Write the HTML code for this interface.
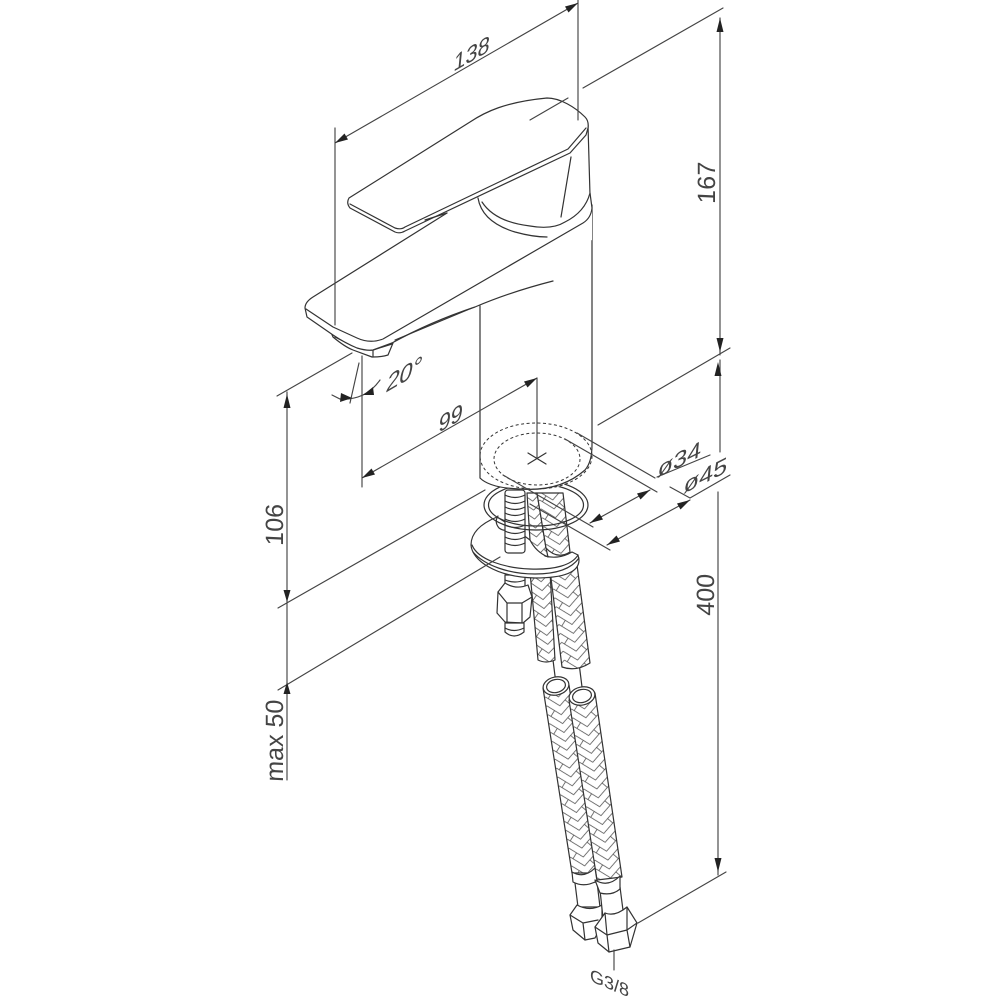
<!DOCTYPE html>
<html><head><meta charset="utf-8"><style>
html,body{margin:0;padding:0;background:#fff}
svg{display:block}
text{font-family:"Liberation Sans",sans-serif;fill:#444;font-size:23px}
.l{fill:none;stroke:#333;stroke-width:1.2;stroke-linejoin:round;stroke-linecap:round}
.d{fill:none;stroke:#444;stroke-width:1.15;stroke-linecap:round}
.w{fill:#fff;stroke:#333;stroke-width:1.2;stroke-linejoin:round}
.a{fill:#222;stroke:none}
</style></head><body>
<svg width="1000" height="1000" viewBox="0 0 1000 1000" xmlns="http://www.w3.org/2000/svg">
<defs>
<g id="br">
<rect x="-1" y="-1" width="28" height="20" fill="#fff"/>
<path d="M0 -18L13 -7L26 -18M0 -9L13 2L26 -9M0 0L13 11L26 0M0 9L13 20L26 9M0 18L13 29L26 18M7 5.9L2.5 11.1M19 14.9L23.5 20.1M19 -3.1L23.5 2.1" fill="none" stroke="#4a4a4a" stroke-width=".75"/>
</g>
<pattern id="h1" patternUnits="userSpaceOnUse" width="26" height="18" patternTransform="translate(544 688) rotate(-8.8)"><use href="#br"/></pattern>
<pattern id="h2" patternUnits="userSpaceOnUse" width="26" height="18" patternTransform="translate(570 700) rotate(-8.8)"><use href="#br"/></pattern>
<pattern id="h3" patternUnits="userSpaceOnUse" width="26" height="18" patternTransform="translate(529 590) rotate(-6)"><use href="#br"/></pattern>
<pattern id="h4" patternUnits="userSpaceOnUse" width="26" height="18" patternTransform="translate(552 580) rotate(-8.8)"><use href="#br"/></pattern>
</defs>
<rect width="1000" height="1000" fill="#fff"/>

<!-- lower hoses -->
<path class="l" d="M553 660L556 684M579 663L583 695"/>
<path class="w" d="M543 688L572 873L597 873L569 685Z" style="fill:url(#h1)"/>
<ellipse class="w" cx="556" cy="686" rx="13" ry="9" transform="rotate(-12 556 686)"/>
<ellipse class="l" cx="556" cy="686" rx="9.5" ry="6.5" transform="rotate(-12 556 686)"/>
<path class="w" d="M569 700L597 880L622 877L595 693Z" style="fill:url(#h2)"/>
<ellipse class="w" cx="582" cy="696" rx="13" ry="9" transform="rotate(-12 582 696)"/>
<ellipse class="l" cx="582" cy="696" rx="9.5" ry="6.5" transform="rotate(-12 582 696)"/>

<!-- left fitting -->
<path class="w" d="M575 883L578 907H600L597 882Z"/>
<path class="w" d="M572 872L573 882Q584 888 597 881L595 868Q584 879 572 872Z"/>
<path class="w" d="M570 915L577 905Q590 912 602 905L602 925L595 938L585 940L573 930Z"/>
<path class="l" d="M570 915L583 923L585 940M583 923L598 920"/>
<!-- right fitting -->
<path class="w" d="M600 890L603 918H624L620 887Z"/>
<path class="w" d="M595 880L600 893Q612 896 620 889L620 876Q608 888 595 880Z"/>
<path class="w" d="M595 927L605 913Q615 917 627 907L637 923L630 947L609 952L598 943Z"/>
<path class="l" d="M595 927L607 935L627 930L637 923M607 935L609 952M627 930L630 947M605 913L607 935M627 907L627 930"/>

<!-- upper hoses below washer -->
<path class="w" d="M530 572L538 660Q546 664 555 660L550 572Z" style="fill:url(#h3)"/>
<path class="w" d="M550 570L562 667Q576 672 590 663L577 565Z" style="fill:url(#h4)"/>

<!-- hex nut -->
<rect class="w" x="505" y="575" width="20" height="14"/>
<path class="l" d="M505 580Q515 584 525 580"/>
<path class="w" d="M498 592L505 583Q516 590 528 585L532 597L530 617L523 623L505 622L497 613Z"/>
<path class="l" d="M498 592L507 603H522L532 597M507 603V622M522 603V623"/>
<path class="w" d="M505 623V632Q514 640 524 632V623Z"/>
<path class="l" d="M505 628Q514 633 524 628"/>

<!-- lower washer -->
<path class="w" d="M497 517C480 524 471 533 471 545C472 560 495 577 535 578C565 578 579 572 579 560L578 555L572 552C562 558 552 558 545 556L530 540L505 522Z"/>
<path class="l" d="M472 545C478 560 505 568 530 569C555 570 572 565 578 555"/>
<path class="l" d="M473 552C485 566 510 574 535 574C558 574 572 568 579 558"/>
<path class="l" d="M498 516Q494 522 499 528Q503 531 507 530"/>

<!-- threaded rod -->
<rect class="w" x="505" y="490" width="20" height="63" rx="3"/>
<path class="l" d="M505 495Q515 500 525 495M505 501Q515 506 525 501M505 507Q515 512 525 507M505 513Q515 518 525 513M505 519Q515 524 525 519M505 525Q515 530 525 525M505 531Q515 536 525 531M505 537Q515 542 525 537M505 543Q515 548 525 543"/>

<!-- upper hoses above washer -->
<path class="w" d="M527 493L537 493L546 548L548 557Q536 552 530 540Z" style="fill:url(#h3)"/>
<path class="w" d="M537 493L563 493L570 552Q557 560 546 548Z" style="fill:url(#h4)"/>

<!-- ring -->
<ellipse class="l" cx="536" cy="505" rx="52" ry="25"/>
<ellipse class="l" cx="536" cy="505" rx="47.5" ry="21"/>

<!-- faucet body -->
<path d="M480 305V478Q490 490 536 490Q582 490 592 445V195L400 338Z" fill="#fff"/>
<path class="l" d="M480 306V478M592 205V445M480 478Q490 488 520 489Q560 492 585 470Q592 462 592 445"/>
<ellipse cx="536" cy="456" rx="56" ry="33" fill="none" stroke="#333" stroke-width="1" stroke-dasharray="3 2.5"/>
<ellipse cx="537" cy="459" rx="43" ry="26" fill="none" stroke="#333" stroke-width="1" stroke-dasharray="3 2.5"/>
<path class="l" d="M528 453L546 464M528 464L546 453"/>

<!-- aerator / spout -->
<path class="w" d="M333 337Q345 347 353 350L372 357Q382 357 388 355L393 343L372 338L330 330Z"/>
<path class="l" d="M335 337L353 346M342 338L360 346M373 350L373 357M373 350L392 344"/>
<path class="w" d="M447 213L313 297Q305 302 305 308L307 317Q320 327 333 335Q345 343 357 348Q367 351 373 350L392 343Q430 322 475 307L592 240V190L460 190Z" style="stroke:none"/>
<path class="l" d="M447 213L313 297Q305 302 305 308L307 317L333 335Q345 343 357 348Q367 351 373 350L392 343"/>
<path class="l" d="M306 309L333 327L357 338Q370 344 383 339L583 223Q591 218 592 208L590 193"/>
<path class="l" d="M392 343Q430 322 475 307Q510 292 553 281"/>
<path class="l" d="M395 340L472 308"/>

<!-- lever base -->
<path d="M482 200Q490 220 525 226Q550 230 565 223Q590 210 590 193L588 125L570 153Z" fill="#fff"/>
<path class="l" d="M478 198Q482 222 515 232Q533 237 547 237M482 202Q495 222 530 226Q552 230 565 222Q585 212 590 193M588 125L590 195M571 157L561 217"/>

<!-- handle -->
<path class="w" d="M349 198L470 122C485 112 505 102 547 98C560 98 575 107 585 117Q589 121 588 128L586 135L570 153L405 231Q400 234 395 232L350 208Q346 203 349 198Z"/>
<path class="l" d="M350 204L395 228Q401 230 405 227L568 149L586 128"/>
<path class="l" d="M425 220L447 213"/>

<!-- dimension lines -->
<g class="d">
<path d="M335 128V325M578 0V120M335 143L578 3"/>
<path d="M583 88L723 8M530 120L568 98"/>
<path d="M720 18V355M720 360V452M718 492V875"/>
<path d="M598 425L730 348M638 923L726 872"/>
<path d="M287 392V780M277 396L352 353M278 608L485 490M278 690L500 557"/>
<path d="M362 356V487M537 378V458M362 478L537 378"/>
<path d="M565 439L657 492M503 475L593 527M577 433L655 478M530 504L610 550"/>
<path d="M590 523L650 490M607 545L690 500M657 477L710 455M690 498L730 475M670 487L690 498"/>
<path d="M614 950V970M359 363L350 403M332 395L340 399Q352 400 363 395Q373 390 380 380"/>
</g>
<g class="a">
<path d="M335 143L348 139.5L344.5 133.5Z"/>
<path d="M578 3L568.5 12.5L565 6.5Z"/>
<path d="M720 18L716.5 32H723.5Z"/>
<path d="M720 352L716.5 338H723.5Z"/>
<path d="M718 362L714.5 376H721.5Z"/>
<path d="M718 872L714.5 858H721.5Z"/>
<path d="M287 394L283.5 408H290.5Z"/>
<path d="M287 602L283.5 590H290.5Z"/>
<path d="M287 682L283.5 694H290.5Z"/>
<path d="M362 478L375 474.5L371.5 468.5Z"/>
<path d="M537 378L527.5 387.5L524 381.5Z"/>
<path d="M590 523L603 519.5L599.5 513.5Z"/>
<path d="M650 490L640.5 499.5L637 493.5Z"/>
<path d="M607 545L620 541.5L616.5 535.5Z"/>
<path d="M690 500L680.5 509.5L677 503.5Z"/>
<path d="M352 398L340 402L341 393Z"/>
<path d="M363 395L373 387L374 395Z"/>
</g>

<!-- labels -->
<text transform="matrix(.9 -.52 -.1 1 453 72)" style="font-size:24px">138</text>
<text transform="matrix(0 -1 1 .05 715 204)" style="font-size:25px">167</text>
<text transform="matrix(0 -1 1 .05 283 546)" style="font-size:25px">106</text>
<text transform="matrix(0 -1 1 .05 714 616)" style="font-size:25px">400</text>
<text transform="matrix(0 -1 1 .05 283 782)" style="font-size:25px">max 50</text>
<text transform="matrix(.9 -.52 -.1 1 438 433)" style="font-size:24px">99</text>
<text transform="matrix(.9 -.52 -.2 1 385 393)" style="font-size:26px">20°</text>
<text transform="matrix(1.1 -.55 -.1 1 657 478)" style="font-size:23px">ø34</text>
<text transform="matrix(1.1 -.55 -.1 1 683 494)" style="font-size:23px">ø45</text>
<text transform="matrix(1 .42 0 1 590 981)" style="font-size:18px">G3/8</text>
</svg>
</body></html>
